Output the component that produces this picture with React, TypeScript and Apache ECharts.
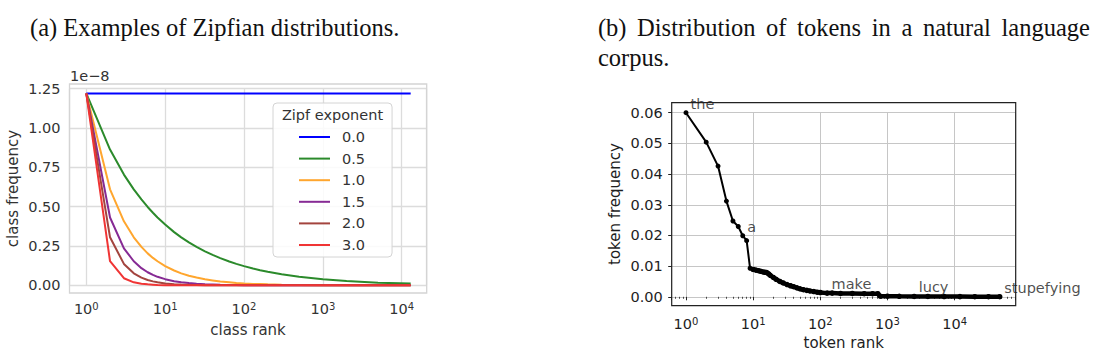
import React, { useEffect, useRef } from 'react';
import * as echarts from 'echarts';

// ---------- data: (a) Zipfian distributions ----------
const zipfExponents = ['0.0', '0.5', '1.0', '1.5', '2.0', '3.0'];
const classRanks = [1, 2, 3, 4, 5, 6, 7, 8, 10, 13, 16, 20, 25, 32, 40, 50, 65, 80, 100, 130, 160, 200, 300, 500, 1000, 2000, 5000, 13000];
// class frequency, in units of 1e-8
const freqExp00 = [1.22, 1.22, 1.22, 1.22, 1.22, 1.22, 1.22, 1.22, 1.22, 1.22, 1.22, 1.22, 1.22, 1.22, 1.22, 1.22, 1.22, 1.22, 1.22, 1.22, 1.22, 1.22, 1.22, 1.22, 1.22, 1.22, 1.22, 1.22];
const freqExp05 = [1.22, 0.863, 0.704, 0.61, 0.546, 0.498, 0.461, 0.431, 0.386, 0.338, 0.305, 0.273, 0.244, 0.216, 0.193, 0.173, 0.151, 0.136, 0.122, 0.107, 0.096, 0.086, 0.07, 0.055, 0.039, 0.027, 0.017, 0.011];
const freqExp10 = [1.22, 0.61, 0.407, 0.305, 0.244, 0.203, 0.174, 0.153, 0.122, 0.094, 0.076, 0.061, 0.049, 0.038, 0.031, 0.024, 0.019, 0.015, 0.012, 0.009, 0.008, 0.006, 0.004, 0.002, 0.001, 0.001, 0.0, 0.0];
const freqExp15 = [1.22, 0.431, 0.235, 0.153, 0.109, 0.083, 0.066, 0.054, 0.039, 0.026, 0.019, 0.014, 0.01, 0.007, 0.005, 0.003, 0.002, 0.002, 0.001, 0.001, 0.001, 0.0, 0.0, 0.0, 0.0, 0.0, 0.0, 0.0];
const freqExp20 = [1.22, 0.305, 0.136, 0.076, 0.049, 0.034, 0.025, 0.019, 0.012, 0.007, 0.005, 0.003, 0.002, 0.001, 0.001, 0.0, 0.0, 0.0, 0.0, 0.0, 0.0, 0.0, 0.0, 0.0, 0.0, 0.0, 0.0, 0.0];
const freqExp30 = [1.22, 0.153, 0.045, 0.019, 0.01, 0.006, 0.004, 0.002, 0.001, 0.001, 0.0, 0.0, 0.0, 0.0, 0.0, 0.0, 0.0, 0.0, 0.0, 0.0, 0.0, 0.0, 0.0, 0.0, 0.0, 0.0, 0.0, 0.0];
const zipfSeriesValues = [freqExp00, freqExp05, freqExp10, freqExp15, freqExp20, freqExp30];
const classFreqTicks = [0, 0.25, 0.5, 0.75, 1.0, 1.25];

// ---------- data: (b) tokens in a corpus ----------
const tokenRanksHead = [1, 2, 3, 4, 5, 6, 7, 8, 9, 10];
const tokenFreqHead = [0.06, 0.0504, 0.0426, 0.0312, 0.0247, 0.0229, 0.0199, 0.0183, 0.0093, 0.0089];
const tokenRanksTail = [10, 11, 12, 13, 14, 15, 16, 17, 18, 20, 22, 25, 28, 32, 36, 40, 45, 50, 56, 63, 70, 80, 90, 100, 126, 150, 200, 300, 450, 600, 720, 780, 1000, 1500, 2500, 4000, 7000, 12000, 20000, 32000, 47000];
const tokenFreqTail = [0.0089, 0.0087, 0.0085, 0.0083, 0.0081, 0.008, 0.0079, 0.0075, 0.007, 0.0063, 0.0057, 0.005, 0.0045, 0.004, 0.0036, 0.0033, 0.0029, 0.0026, 0.0023, 0.0021, 0.0019, 0.0017, 0.0015, 0.0014, 0.0012, 0.0012, 0.0011, 0.0011, 0.001, 0.001, 0.001, 0.0002, 0.0002, 0.00015, 0.0001, 0.0001, 0.00008, 0.00006, 0.00004, 0.00003, 0.00002];
const annotatedWords = ['the', 'a', 'make', 'lucy', 'stupefying'];
const annotatedRanks = [1, 7, 126, 2500, 47000];
const annotatedFreqs = [0.06, 0.0199, 0.0012, 0.0001, 0.00002];

const titleA = '(a) Examples of Zipfian distributions.';
const titleBLine1 = ['(b)', 'Distribution', 'of', 'tokens', 'in', 'a', 'natural', 'language'];
const titleBLine2 = 'corpus.';

const SANS = 'DejaVu Sans';
const SERIF = 'Liberation Serif';
const zipfColors = ['#0000ff', '#2b8a2b', '#ffa62e', '#862a94', '#a3443e', '#f03434'];

const zip = (xs: number[], ys: number[]) => xs.map((x, i) => [x, ys[i]]);

const powLabel = (v: number) => {
  const e = Math.log10(v);
  const r = Math.round(e);
  if (Math.abs(e - r) > 1e-6) return '';
  return `{b|10}{s|${r}}`;
};

export default function App() {
  const ref = useRef<HTMLDivElement>(null);

  useEffect(() => {
    if (!ref.current) return;
    const chart = echarts.init(ref.current, undefined, { renderer: 'svg' });

    // layout (pixels)
    const A = { left: 69.5, right: 426.7, frameTop: 84, frameBottom: 293, y125: 88.7, y0: 285.3 };
    const B = { left: 671.7, right: 1015.7, frameTop: 102.7, frameBottom: 305.7, y006: 112.7, y0: 296.8 };
    const wordX = [597.9, 637.1, 766.1, 797.1, 871.7, 901.4, 922.9, 1001.5];

    const leftGray = '#333333';
    const rightDark = '#1e1e1e';

    const richA = {
      b: { fontSize: 14.5, fontFamily: SANS, color: leftGray },
      s: { fontSize: 10, fontFamily: SANS, color: leftGray, verticalAlign: 'top' as const },
    };
    const richB = {
      b: { fontSize: 14.5, fontFamily: SANS, color: rightDark },
      s: { fontSize: 10, fontFamily: SANS, color: rightDark, verticalAlign: 'top' as const },
    };

    const graphics: any[] = [
      { type: 'text', x: 30, y: 27.5, style: { text: titleA, fontFamily: SERIF, fontSize: 24.5, fill: '#111', align: 'left', verticalAlign: 'middle' } },
      ...titleBLine1.map((w, i) => ({ type: 'text', x: wordX[i], y: 27.5, style: { text: w, fontFamily: SERIF, fontSize: 24.5, fill: '#111', align: 'left', verticalAlign: 'middle' } })),
      { type: 'text', x: 597.9, y: 57.5, style: { text: titleBLine2, fontFamily: SERIF, fontSize: 24.5, fill: '#111', align: 'left', verticalAlign: 'middle' } },
      // frames
      { type: 'rect', z: 1, shape: { x: A.left, y: A.frameTop, width: A.right - A.left, height: A.frameBottom - A.frameTop }, style: { fill: 'none', stroke: '#d4d4d4', lineWidth: 1.3 } },
      { type: 'rect', z: 50, shape: { x: B.left, y: B.frameTop, width: B.right - B.left, height: B.frameBottom - B.frameTop }, style: { fill: 'none', stroke: '#222', lineWidth: 1.2 } },
      // offset text and axis names
      { type: 'text', x: 70, y: 76, style: { text: '1e\u22128', fontFamily: SANS, fontSize: 14.5, fill: leftGray, align: 'left', verticalAlign: 'middle' } },
      { type: 'text', x: 13.3, y: 188.5, rotation: Math.PI / 2, style: { text: 'class frequency', fontFamily: SANS, fontSize: 15, fill: leftGray, align: 'center', verticalAlign: 'middle' } },
      { type: 'text', x: 248, y: 330, style: { text: 'class rank', fontFamily: SANS, fontSize: 15, fill: leftGray, align: 'center', verticalAlign: 'middle' } },
      { type: 'text', x: 615, y: 204, rotation: Math.PI / 2, style: { text: 'token frequency', fontFamily: SANS, fontSize: 15, fill: rightDark, align: 'center', verticalAlign: 'middle' } },
      { type: 'text', x: 843.7, y: 342.5, style: { text: 'token rank', fontFamily: SANS, fontSize: 15, fill: rightDark, align: 'center', verticalAlign: 'middle' } },
      // legend title
      { type: 'text', z: 100, x: 332.5, y: 115, style: { text: 'Zipf exponent', fontFamily: SANS, fontSize: 14.5, fill: leftGray, align: 'center', verticalAlign: 'middle' } },
    ];

    const zipfSeries = zipfExponents.map((name, i) => ({
      name,
      type: 'line',
      xAxisIndex: 0,
      yAxisIndex: 0,
      data: zip(classRanks, zipfSeriesValues[i]),
      showSymbol: false,
      clip: false,
      lineStyle: { color: zipfColors[i], width: 2 },
      itemStyle: { color: zipfColors[i] },
      z: 3 + i,
    }));

    const option: any = {
      animation: false,
      backgroundColor: '#ffffff',
      grid: [
        { left: A.left, top: A.y125, width: A.right - A.left, height: A.y0 - A.y125, containLabel: false },
        { left: B.left, top: B.y006, width: B.right - B.left, height: B.y0 - B.y006, containLabel: false },
      ],
      xAxis: [
        {
          type: 'log', gridIndex: 0, logBase: 10,
          min: Math.pow(10, -0.213), max: Math.pow(10, 4.317),
          axisLine: { show: false }, axisTick: { show: false },
          splitLine: { show: true, lineStyle: { color: '#dcdcdc', width: 1.3 } },
          axisLabel: { show: true, showMinLabel: false, showMaxLabel: false, margin: 16, formatter: powLabel, rich: richA },
        },
        {
          type: 'log', gridIndex: 1, logBase: 10,
          min: Math.pow(10, -0.213), max: Math.pow(10, 4.91),
          offset: B.frameBottom - B.y0,
          axisLine: { show: false },
          axisTick: { show: true, length: 3.5, lineStyle: { color: '#222', width: 1 } },
          minorTick: { show: true, splitNumber: 9, length: 2, lineStyle: { color: '#222', width: 0.8 } },
          splitLine: { show: true, lineStyle: { color: '#c6c6c6', width: 1 } },
          axisLabel: { show: true, showMinLabel: false, showMaxLabel: false, margin: 11, formatter: powLabel, rich: richB },
        },
      ],
      yAxis: [
        {
          type: 'value', gridIndex: 0, min: classFreqTicks[0], max: classFreqTicks[classFreqTicks.length - 1], interval: 0.25,
          axisLine: { show: false }, axisTick: { show: false },
          splitLine: { show: true, lineStyle: { color: '#dcdcdc', width: 1.3 } },
          axisLabel: { margin: 9, fontSize: 14.5, fontFamily: SANS, color: leftGray, formatter: (v: number) => v.toFixed(2) },
        },
        {
          type: 'value', gridIndex: 1, min: 0, max: 0.06, interval: 0.01,
          axisLine: { show: false },
          axisTick: { show: true, length: 3.5, lineStyle: { color: '#222', width: 1 } },
          splitLine: { show: true, lineStyle: { color: '#c6c6c6', width: 1 } },
          axisLabel: { margin: 9, fontSize: 14.5, fontFamily: SANS, color: rightDark, formatter: (v: number) => v.toFixed(2) },
        },
      ],
      legend: {
        data: zipfExponents,
        orient: 'vertical',
        left: 273,
        top: 103,
        icon: 'rect',
        itemWidth: 31,
        itemHeight: 2,
        itemGap: 5.6,
        selectedMode: false,
        padding: [26, 27, 4, 26],
        backgroundColor: 'rgba(255,255,255,0.85)',
        borderColor: '#d4d4d4',
        borderWidth: 1,
        borderRadius: 4,
        textStyle: { fontSize: 14.5, fontFamily: SANS, color: leftGray, lineHeight: 16, padding: [0, 0, 0, 7] },
        z: 20,
      },
      graphic: graphics,
      series: [
        ...zipfSeries,
        {
          name: 'tokens-head', type: 'line', xAxisIndex: 1, yAxisIndex: 1,
          data: zip(tokenRanksHead, tokenFreqHead), clip: false,
          symbol: 'circle', symbolSize: 5, showSymbol: true,
          lineStyle: { color: '#000', width: 2 }, itemStyle: { color: '#000' },
        },
        {
          name: 'tokens-tail', type: 'line', xAxisIndex: 1, yAxisIndex: 1,
          data: zip(tokenRanksTail, tokenFreqTail), clip: false,
          symbol: 'circle', symbolSize: 5.5, showSymbol: true,
          lineStyle: { color: '#000', width: 4.5 }, itemStyle: { color: '#000' },
        },
        {
          name: 'words', type: 'scatter', xAxisIndex: 1, yAxisIndex: 1,
          data: annotatedWords.map((w, i) => ({ value: [annotatedRanks[i], annotatedFreqs[i]], name: w })),
          symbolSize: 0, clip: false, z: 60,
          label: {
            show: true, formatter: (p: any) => p.name, position: [4.5, -1.5],
            align: 'left', verticalAlign: 'bottom',
            fontSize: 14.5, fontFamily: SANS, color: rightDark,
          },
        },
      ],
    };

    chart.setOption(option);
    return () => chart.dispose();
  }, []);

  return <div ref={ref} style={{ position: 'fixed', left: 0, top: 0, width: 1100, height: 352, background: '#fff' }} />;
}
